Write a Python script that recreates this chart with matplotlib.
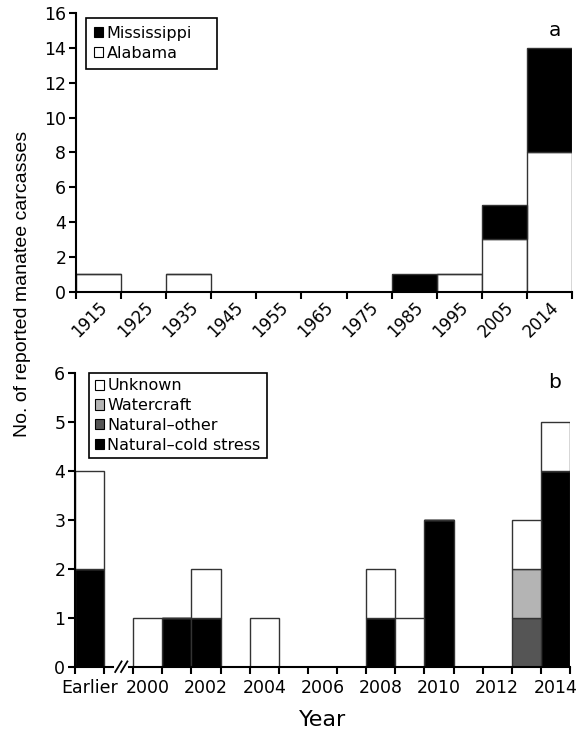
import matplotlib
matplotlib.use("Agg")
import matplotlib.pyplot as plt
from matplotlib.patches import Patch
from matplotlib.lines import Line2D
import numpy as np

plt.rcParams['font.family'] = ['DejaVu Sans']

# ---------------- Data ----------------
# Panel a: decadal bins
decades_a = ['1915', '1925', '1935', '1945', '1955', '1965', '1975', '1985', '1995', '2005', '2014']
alabama = [1, 0, 1, 0, 0, 0, 0, 0, 1, 3, 8]
mississippi = [0, 0, 0, 0, 0, 0, 0, 1, 0, 2, 6]

# Panel b: years (Earlier + 2000..2014)
years_b = ['Earlier', '2000', '2001', '2002', '2003', '2004', '2005', '2006', '2007',
           '2008', '2009', '2010', '2011', '2012', '2013', '2014']
cold_stress = [2, 0, 1, 1, 0, 0, 0, 0, 0, 1, 0, 3, 0, 0, 0, 4]
natural_other = [0, 0, 0, 0, 0, 0, 0, 0, 0, 0, 0, 0, 0, 0, 1, 0]
watercraft = [0, 0, 0, 0, 0, 0, 0, 0, 0, 0, 0, 0, 0, 0, 1, 0]
unknown = [2, 1, 0, 1, 0, 1, 0, 0, 0, 1, 1, 0, 0, 0, 1, 1]
labelled_b = ['Earlier', '2000', '2002', '2004', '2006', '2008', '2010', '2012', '2014']

# ---------------- Style ----------------
W, H = 583, 734
fig = plt.figure(figsize=(W / 100, H / 100), dpi=100)

EDGE = '#333333'
C_WHITE = 'white'
C_BLACK = 'black'
C_WATER = '#b4b4b4'
C_OTHER = '#555555'
TICK_FS = 12.5
LEG_FS = 11.5
SPW = 1.5

def px_axes(left, right, top, bottom):
    return fig.add_axes([left / W, 1 - bottom / H, (right - left) / W, (bottom - top) / H])

def style_axes(ax):
    for s in ['top', 'right']:
        ax.spines[s].set_visible(False)
    for s in ['left', 'bottom']:
        ax.spines[s].set_linewidth(SPW)
    ax.tick_params(axis='both', which='major', direction='out', length=5, width=SPW,
                   labelsize=TICK_FS, pad=2)
    ax.tick_params(axis='x', which='minor', length=0, labelsize=TICK_FS)

# ---------------- Panel a ----------------
axa = px_axes(76, 572, 13, 291.7)
xa = np.arange(len(decades_a))
axa.bar(xa, alabama, width=1, align='edge', color=C_WHITE, edgecolor=EDGE, linewidth=1, label='Alabama')
axa.bar(xa, mississippi, width=1, align='edge', bottom=alabama, color=C_BLACK, edgecolor=EDGE,
        linewidth=1, label='Mississippi')
axa.set_xlim(0, len(decades_a))
axa.set_ylim(0, 16)
axa.set_yticks(np.arange(0, 17, 2))
axa.set_xticks(np.arange(0, len(decades_a) + 1))
axa.set_xticklabels([])
axa.set_xticks(xa + 0.5, minor=True)
axa.set_xticklabels(decades_a, minor=True, rotation=45, ha='right', va='top',
                    rotation_mode='anchor')
style_axes(axa)
axa.tick_params(axis='x', which='minor', pad=5, labelsize=12)

handles_a = [Patch(facecolor=C_BLACK, edgecolor='black', linewidth=0.8, label='Mississippi'),
             Patch(facecolor=C_WHITE, edgecolor='black', linewidth=0.8, label='Alabama')]
lega = axa.legend(handles=handles_a, loc='upper left', bbox_to_anchor=(0.0198, 0, 0.264, 0.982),
                  mode='expand', borderaxespad=0, fontsize=LEG_FS, handlelength=0.6,
                  handleheight=0.6, handletextpad=0.2, labelspacing=0.3, borderpad=0.5,
                  frameon=True, fancybox=False, framealpha=1, edgecolor='black')
lega.get_frame().set_linewidth(1.2)
axa.text(0.966, 0.939, 'a', transform=axa.transAxes, fontsize=14.5, ha='center', va='center')

# ---------------- Panel b ----------------
axb = px_axes(75, 570, 372.7, 666.7)
pos_b = np.array([0] + [i + 2 for i in range(len(years_b) - 1)])
cold_arr = np.array(cold_stress)
other_arr = np.array(natural_other)
water_arr = np.array(watercraft)
unk_arr = np.array(unknown)
axb.bar(pos_b, cold_arr, width=1, align='edge', color=C_BLACK, edgecolor=EDGE, linewidth=1)
axb.bar(pos_b, other_arr, width=1, align='edge', bottom=cold_arr, color=C_OTHER, edgecolor=EDGE, linewidth=1)
axb.bar(pos_b, water_arr, width=1, align='edge', bottom=cold_arr + other_arr, color=C_WATER,
        edgecolor=EDGE, linewidth=1)
axb.bar(pos_b, unk_arr, width=1, align='edge', bottom=cold_arr + other_arr + water_arr,
        color=C_WHITE, edgecolor=EDGE, linewidth=1)
nb = int(pos_b[-1]) + 1
axb.set_xlim(0, nb)
axb.set_ylim(0, 6)
axb.set_yticks(np.arange(0, 7, 1))
axb.set_xticks(np.arange(0, nb + 1))
axb.set_xticklabels([])
lab_pos = [pos_b[years_b.index(l)] + 0.5 for l in labelled_b]
axb.set_xticks(lab_pos, minor=True)
axb.set_xticklabels(labelled_b, minor=True)
style_axes(axb)
axb.tick_params(axis='x', which='minor', pad=9)
axb.spines['bottom'].set_visible(False)
# broken bottom axis
axb.add_line(Line2D([0, 1.3], [0, 0], color='black', lw=SPW, clip_on=False,
                    transform=axb.get_xaxis_transform()))
axb.add_line(Line2D([1.85, nb], [0, 0], color='black', lw=SPW, clip_on=False,
                    transform=axb.get_xaxis_transform()))
for xs in (1.38, 1.58):
    axb.add_line(Line2D([xs, xs + 0.22], [-0.018, 0.018], color='black', lw=1.3, clip_on=False,
                        transform=axb.get_xaxis_transform()))

handles_b = [Patch(facecolor=C_WHITE, edgecolor='black', linewidth=0.8, label='Unknown'),
             Patch(facecolor=C_WATER, edgecolor='black', linewidth=0.8, label='Watercraft'),
             Patch(facecolor=C_OTHER, edgecolor='black', linewidth=0.8, label='Natural\u2013other'),
             Patch(facecolor=C_BLACK, edgecolor='black', linewidth=0.8, label='Natural\u2013cold stress')]
legb = axb.legend(handles=handles_b, loc='upper left', bbox_to_anchor=(0.0283, 0, 0.36, 1.0),
                  mode='expand', borderaxespad=0, fontsize=LEG_FS, handlelength=0.6,
                  handleheight=0.6, handletextpad=0.2, labelspacing=0.3, borderpad=0.35,
                  frameon=True, fancybox=False, framealpha=1, edgecolor='black')
legb.get_frame().set_linewidth(1.2)
axb.text(0.968, 0.968, 'b', transform=axb.transAxes, fontsize=14.5, ha='center', va='center')

axb.set_xlabel('Year', fontsize=16, labelpad=9)

fig.text(23 / W, 1 - 284 / H, 'No. of reported manatee carcasses', rotation=90,
         ha='center', va='center', fontsize=14, family=['Liberation Sans', 'DejaVu Sans'])

fig.savefig('out.png', dpi=100)
